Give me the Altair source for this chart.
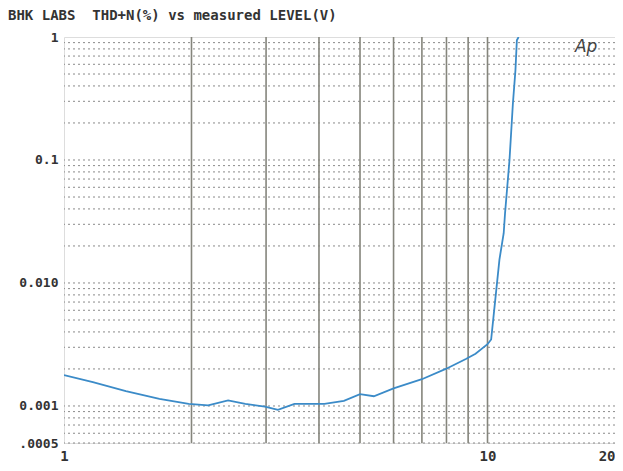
import altair as alt
import pandas as pd

# measured curve
level_v = [1.0, 1.17, 1.40, 1.68, 1.97, 2.19, 2.44, 2.68, 2.98, 3.2, 3.5, 4.12, 4.58,
           5.0, 5.39, 6.0, 7.0, 7.97, 8.89, 9.37, 10.0, 10.2, 10.43, 10.67, 10.92,
           11.0, 11.27, 11.48, 11.64, 11.73, 11.84]
thd_pct = [0.00178, 0.00156, 0.00132, 0.00114, 0.00104, 0.00101, 0.00111, 0.00104,
           0.00099, 0.00093, 0.00104, 0.00104, 0.0011, 0.00125, 0.0012, 0.00139,
           0.00165, 0.0020, 0.00241, 0.00266, 0.00318, 0.00347, 0.0073, 0.0155,
           0.0254, 0.0369, 0.1, 0.288, 0.537, 0.94, 1.0]

# grid positions
x_grid = [2, 3, 4, 5, 6, 7, 8, 9, 10]
y_grid = [m * d for d in [0.0001, 0.001, 0.01, 0.1] for m in range(1, 10)]
y_grid = [v for v in y_grid if 0.0005 <= v < 1]

x_ticks = [1, 10, 20]
y_ticks = [1, 0.1, 0.01, 0.001, 0.0005]

xs = alt.Scale(type="log", domain=[1, 20], nice=False)
ys = alt.Scale(type="log", domain=[0.0005, 1], nice=False)

FONT = "DejaVu Sans Mono"

x_axis = alt.Axis(values=x_ticks, ticks=False, grid=False, domain=False,
                  labelFont=FONT, labelFontSize=14, labelFontWeight="bold",
                  labelColor="#333", labelPadding=6, title=None, labelFlush=False,
                  labelAlign={"condition": {"test": "datum.value >= 20", "value": "right"},
                              "value": "center"},
                  labelExpr="datum.value == 1 ? '1' : datum.value == 10 ? '10' : '20'")
y_axis = alt.Axis(values=y_ticks, ticks=False, grid=False, domain=False,
                  labelFont=FONT, labelFontSize=13, labelFontWeight="bold",
                  labelColor="#333", labelPadding=6, title=None, labelFlush=False,
                  labelExpr="datum.value >= 0.9 ? '1' : datum.value >= 0.09 ? '0.1' : datum.value >= 0.009 ? '0.010' : datum.value >= 0.0009 ? '0.001' : '.0005'")

df = pd.DataFrame({"level": level_v, "thd": thd_pct})

ygrid = alt.Chart(pd.DataFrame({"thd": y_grid})).mark_rule(
    color="#8a8a8a", strokeWidth=1, strokeDash=[2, 3]
).encode(y=alt.Y("thd:Q", scale=ys, axis=y_axis))

xgrid = alt.Chart(pd.DataFrame({"level": x_grid})).mark_rule(
    color="#85857c", strokeWidth=1.6
).encode(x=alt.X("level:Q", scale=xs, axis=x_axis))

line = alt.Chart(df).mark_line(color="#3b8bc8", strokeWidth=1.8, clip=True).encode(
    x=alt.X("level:Q", scale=xs, axis=x_axis),
    y=alt.Y("thd:Q", scale=ys, axis=y_axis),
)

ap = alt.Chart(pd.DataFrame({"level": [17.1], "thd": [0.83], "t": ["Ap"]})).mark_text(
    font="DejaVu Sans", fontStyle="italic", fontSize=17, color="#444"
).encode(x=alt.X("level:Q", scale=xs, axis=x_axis),
         y=alt.Y("thd:Q", scale=ys, axis=y_axis), text="t:N")

chart = alt.layer(ygrid, xgrid, line, ap).properties(
    width=551, height=406,
    autosize=alt.AutoSizeParams(type="none"),
    padding={"left": 56, "top": 29, "right": 0, "bottom": 20},
    title=alt.TitleParams(
        "BHK LABS\u00a0\u00a0THD+N(%) vs measured LEVEL(V)",
        anchor="start", frame="group", dx=-56, offset=8, font=FONT, fontSize=14,
        fontWeight="bold", color="#333",
    ),
).configure_view(stroke="#888", strokeWidth=1.5).configure(background="white")

chart.save("out.html", embed_options={"renderer": "svg", "actions": False})
